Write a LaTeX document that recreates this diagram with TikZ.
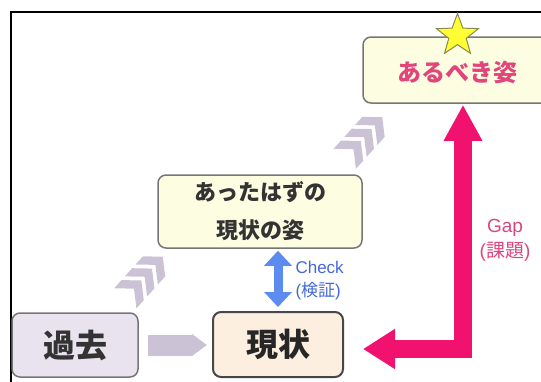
\documentclass[tikz,border=0pt]{standalone}
\usepackage{fontspec}
\setmainfont{Liberation Sans}
\newfontfamily\jp{Noto Sans CJK JP}
\usetikzlibrary{arrows.meta,shapes.geometric,calc}
\definecolor{pinkA}{HTML}{F0126E}
\definecolor{gapText}{HTML}{D8477E}
\definecolor{blueA}{HTML}{5C8CF0}
\definecolor{checkText}{HTML}{4468D6}
\definecolor{kakoFill}{HTML}{E9E3EF}
\definecolor{genjoFill}{HTML}{FCEFDF}
\definecolor{yelFill}{HTML}{FDFDE2}
\definecolor{boxLine}{HTML}{767676}
\definecolor{arubekiText}{HTML}{E2457A}
\definecolor{textDark}{HTML}{333333}
\definecolor{chevFill}{HTML}{CBC3D5}
\definecolor{starY}{HTML}{FFFF33}
\definecolor{starB}{HTML}{8A8A55}
\tikzset{
  box/.style={rectangle, rounded corners=8pt, draw=boxLine, line width=1.5pt, inner sep=0pt, align=center},
  flowarrow/.style={draw=chevFill, line width=21pt, -{Triangle[width=21pt,length=15pt]}},
  gaparrow/.style={draw=pinkA, line width=18pt, line join=miter,
    {Triangle[width=38pt,length=32pt]}-{Triangle[width=36pt,length=36pt]}},
  checkarrow/.style={draw=blueA, line width=9pt,
    {Triangle[width=27pt,length=15pt]}-{Triangle[width=27pt,length=15pt]}},
  chevrons/.pic={
    \foreach \i in {-1,0,1}{
      \fill[chevFill, shift={(\i*16,0)}] (-12,15) -- (-1,15) -- (12,0) -- (-1,-15) -- (-12,-15) -- (1,0) -- cycle;
    }
  }
}
\begin{document}
\begin{tikzpicture}[x=1pt,y=-1pt]
\useasboundingbox (0,0) rectangle (541,381);
\begin{scope}
  \clip (0,0) rectangle (541,381);
  \draw[line width=2pt] (11,12) rectangle (600,420);
  \node[box, fill=yelFill, minimum width=188pt, minimum height=66pt] (arubeki) at (457,70) {};
\end{scope}
\node[text=arubekiText, font=\jp\bfseries\fontsize{24}{24}\selectfont] (arubekiT) at (457,72) {あるべき姿};
\node[star, star points=5, star point ratio=2.4, minimum size=44pt, inner sep=0pt,
      fill=starY, draw=starB, line width=1pt] (star) at (457.5,35.5) {};
\node[box, fill=yelFill, minimum width=204pt, minimum height=73pt, text=textDark,
      font=\jp\bfseries\fontsize{22}{38}\selectfont] (kizon) at (260,211.5) {あったはずの\\現状の姿};
\node[box, fill=kakoFill, minimum width=126pt, minimum height=64pt, text=textDark,
      font=\jp\bfseries\fontsize{32}{32}\selectfont] (kako) at (75,345) {過去};
\node[box, fill=genjoFill, draw=textDark!90, line width=2pt, minimum width=130pt, minimum height=65pt,
      text=black!85, font=\jp\bfseries\fontsize{32}{32}\selectfont] (genjo) at (278,344.5) {現状};
% arrows
\draw[flowarrow] ([xshift=9pt]kako.east) -- ([xshift=-5pt]genjo.west |- kako.east);
\coordinate (gapL) at ($(genjo.east)+(19,4.5)$);
\coordinate (gapT) at ($(arubeki.south)+(6,1)$);
\draw[gaparrow] (gapL) -| (gapT);
\draw[checkarrow] ([yshift=-2pt]genjo.north |- kizon.south) -- ([yshift=4pt]genjo.north);
\pic[rotate=48] at ($(kako.north east)!0.5!(kizon.south west)+(-4,-3)$) {chevrons};
\pic[rotate=48] at ($(kizon.north east)!0.5!(arubeki.south west)+(1,-1)$) {chevrons};
% labels
\node[text=gapText, align=center, font=\fontsize{19}{25}\selectfont] (gaplabel) at (505,240) {Gap\\({\jp 課題})};
\node[text=checkText, align=left, anchor=west, font=\fontsize{17}{23}\selectfont] (checklabel) at (292,281) {Check\\({\jp 検証})};
\end{tikzpicture}
\end{document}
